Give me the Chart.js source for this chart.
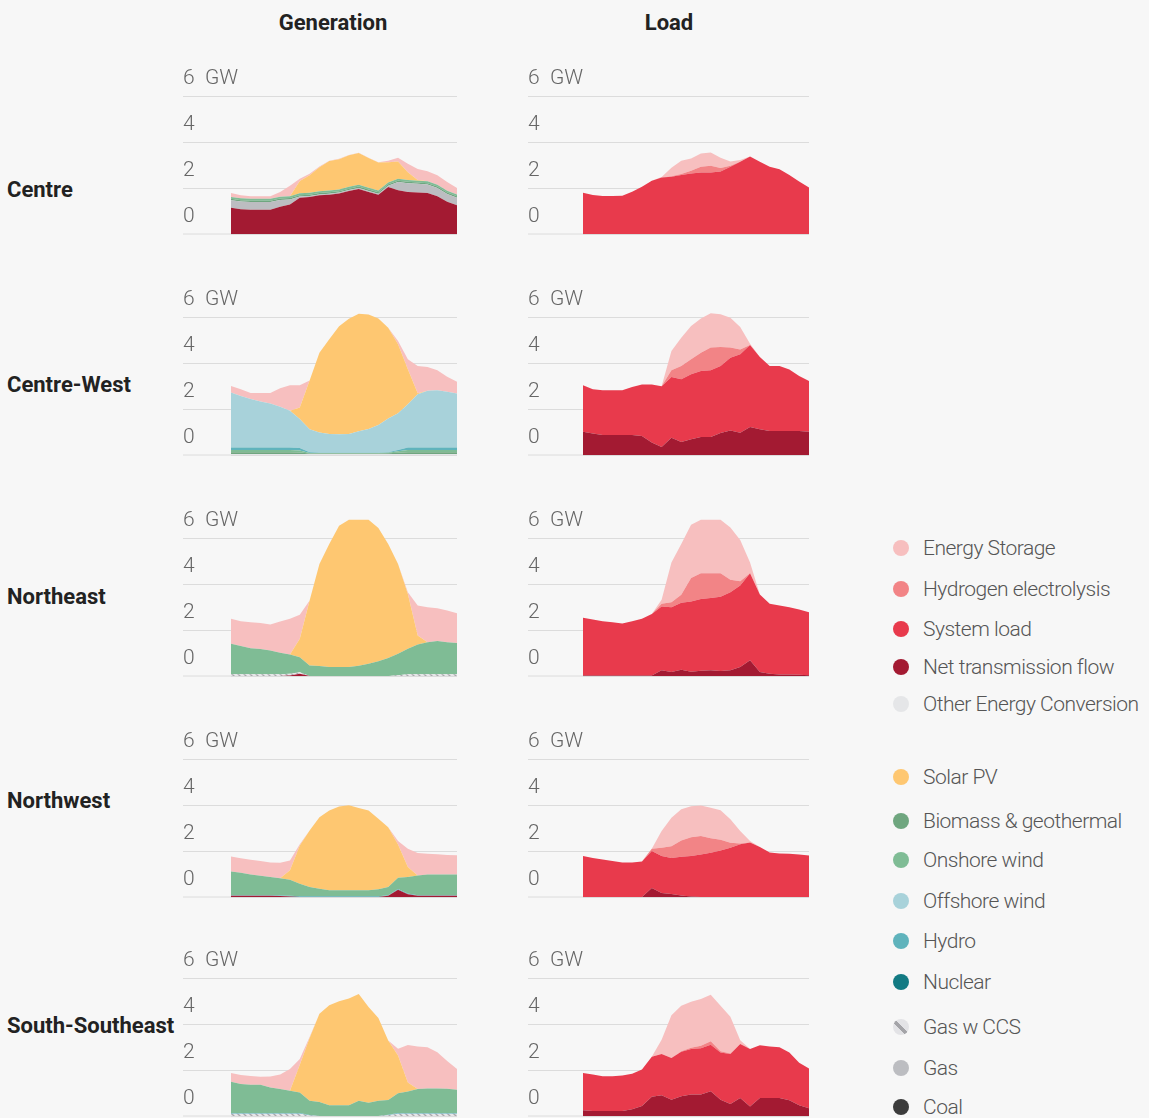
<!DOCTYPE html>
<html>
<head>
<meta charset="utf-8">
<script src="https://cdn.jsdelivr.net/npm/chart.js@4.4.1/dist/chart.umd.min.js"></script>
<style>
  html, body { margin: 0; padding: 0; background: #f7f7f7; }
  body { width: 1149px; height: 1118px; position: relative; overflow: hidden; font-family: Roboto, "Open Sans", sans-serif; }
  .col-title { position: absolute; top: 10px; font-weight: 700; font-size: 22px; color: #222; transform: translateX(-50%); white-space: nowrap; }
  .row-label { position: absolute; left: 7px; font-weight: 700; font-size: 22px; line-height: 26px; color: #222; white-space: nowrap; }
  canvas { position: absolute; }
  .legend-item { position: absolute; left: 893px; height: 26px; display: flex; align-items: center; white-space: nowrap; }
  .legend-item .dot { width: 16px; height: 16px; border-radius: 50%; margin-right: 14px; flex: none; }
  .legend-item .txt { font-size: 21px; font-weight: 300; color: #555; letter-spacing: -0.5px; }
</style>
</head>
<body>
<div class="col-title" style="left:333px">Generation</div>
<div class="col-title" style="left:669px">Load</div>

<div class="row-label" style="top:177px">Centre</div>
<div class="row-label" style="top:372px">Centre-West</div>
<div class="row-label" style="top:584px">Northeast</div>
<div class="row-label" style="top:788px">Northwest</div>
<div class="row-label" style="top:1013px">South-Southeast</div>

<canvas id="c0g"></canvas><canvas id="c0l"></canvas>
<canvas id="c1g"></canvas><canvas id="c1l"></canvas>
<canvas id="c2g"></canvas><canvas id="c2l"></canvas>
<canvas id="c3g"></canvas><canvas id="c3l"></canvas>
<canvas id="c4g"></canvas><canvas id="c4l"></canvas>

<div id="legend"></div>

<script>
// Hour of day on the x axis
const hours = ['0','1','2','3','4','5','6','7','8','9','10','11','12','13','14','15','16','17','18','19','20','21','22','23'];
// Y axis tick values (GW)
const yTicks = [0, 2, 4, 6];
const yUnit = 'GW';

// ---- Centre: generation (GW, per layer, bottom to top) ----
const centreGenNet      = [1.14,1.08,1.05,1.05,1.05,1.18,1.28,1.58,1.61,1.68,1.71,1.76,1.87,1.96,1.83,1.71,2.04,1.90,1.83,1.80,1.78,1.64,1.40,1.25];
const centreGenGas      = [0.33,0.33,0.34,0.34,0.34,0.30,0.22,0.05,0.04,0.04,0.04,0.04,0.04,0.04,0.04,0.04,0.06,0.36,0.38,0.38,0.37,0.36,0.34,0.33];
const centreGenBiomass  = [0.06,0.06,0.06,0.06,0.06,0.06,0.06,0.06,0.06,0.06,0.06,0.06,0.06,0.06,0.06,0.06,0.06,0.06,0.06,0.06,0.06,0.06,0.06,0.06];
const centreGenOnshore  = [0.08,0.08,0.08,0.08,0.08,0.08,0.08,0.08,0.08,0.08,0.08,0.08,0.08,0.08,0.08,0.08,0.08,0.08,0.08,0.08,0.08,0.08,0.08,0.08];
const centreGenSolar    = [0,0,0,0,0,0,0,0.53,0.76,1.04,1.28,1.31,1.37,1.38,1.29,1.22,0.88,0.75,0.34,0.03,0,0,0,0];
const centreGenStorage  = [0.17,0.13,0.11,0.11,0.11,0.21,0.46,0.10,0.07,0.03,0.02,0.02,0.02,0.01,0.01,0.01,0.07,0.17,0.36,0.48,0.44,0.41,0.38,0.28];
// ---- Centre: load ----
const centreLoadSystem   = [1.79,1.70,1.65,1.65,1.66,1.84,2.05,2.31,2.46,2.49,2.56,2.63,2.67,2.67,2.72,2.92,3.14,3.37,3.14,2.92,2.82,2.56,2.28,2.02];
const centreLoadHydrogen = [0,0,0,0,0,0,0,0,0,0.02,0.05,0.12,0.25,0.30,0.15,0.05,0,0,0,0,0,0,0,0];
const centreLoadStorage  = [0,0,0,0,0,0,0,0,0.02,0.37,0.57,0.53,0.58,0.57,0.45,0.18,0.08,0,0,0,0,0,0,0];

// ---- Centre-West: generation ----
const cwGenOther    = [0.04,0.04,0.04,0.04,0.04,0.04,0.04,0.04,0.04,0.04,0.04,0.04,0.04,0.04,0.04,0.04,0.04,0.04,0.04,0.04,0.04,0.04,0.04,0.04];
const cwGenBiomass  = [0.08,0.08,0.08,0.08,0.08,0.08,0.08,0.07,0.03,0.03,0.03,0.03,0.03,0.03,0.03,0.03,0.04,0.06,0.08,0.08,0.08,0.08,0.08,0.08];
const cwGenOnshore  = [0.10,0.10,0.10,0.10,0.10,0.10,0.10,0.09,0.02,0.02,0.02,0.02,0.02,0.02,0.02,0.02,0.02,0.06,0.10,0.10,0.10,0.10,0.10,0.10];
const cwGenHydro    = [0.11,0.11,0.11,0.11,0.11,0.11,0.11,0.10,0.03,0.01,0.01,0.01,0.01,0.01,0.01,0.01,0.02,0.06,0.11,0.11,0.11,0.11,0.11,0.11];
const cwGenOffshore = [2.39,2.24,2.10,2.00,1.91,1.77,1.59,1.26,1.00,0.88,0.81,0.80,0.81,0.93,1.03,1.20,1.47,1.59,1.88,2.31,2.46,2.49,2.42,2.34];
const cwGenSolar    = [0,0,0,0,0,0,0,0.51,2.12,3.47,4.12,4.70,5.01,5.11,4.98,4.64,3.94,3.00,1.52,0.05,0,0,0,0];
const cwGenStorage  = [0.28,0.29,0.27,0.37,0.46,0.80,1.11,0.96,0,0,0,0,0,0,0,0,0,0.15,0.43,1.18,1.04,0.86,0.65,0.52];
// ---- Centre-West: load ----
const cwLoadNet      = [1.01,0.93,0.87,0.87,0.87,0.87,0.83,0.54,0.35,0.75,0.57,0.68,0.78,0.78,0.96,1.07,0.97,1.22,1.12,1.04,1.04,1.04,1.04,1.01];
const cwLoadSystem   = [2.02,1.93,1.94,1.94,1.94,2.09,2.24,2.53,2.64,2.64,2.72,2.83,2.87,2.90,2.91,3.16,3.41,3.56,3.14,2.83,2.83,2.68,2.39,2.21];
const cwLoadHydrogen = [0,0,0,0,0,0,0,0,0,0.29,0.58,0.65,0.80,0.99,0.83,0.44,0.21,0,0,0,0,0,0,0];
const cwLoadStorage  = [0,0,0,0,0,0,0,0,0,0.84,1.23,1.45,1.49,1.49,1.42,1.30,0.98,0.06,0,0,0,0,0,0];

// ---- Northeast: generation ----
const neGenNet      = [0,0,0,0,0,0,0.02,0.10,0,0,0,0,0,0,0,0,0,0,0,0,0,0,0,0];
const neGenGasCcs   = [0.08,0.08,0.08,0.08,0.08,0.08,0.08,0.06,0,0,0,0,0,0,0,0,0,0.03,0.08,0.08,0.08,0.08,0.08,0.08];
const neGenOnshore  = [1.32,1.22,1.13,1.09,1.03,0.93,0.84,0.66,0.46,0.43,0.39,0.39,0.39,0.45,0.53,0.64,0.78,0.94,1.10,1.29,1.39,1.44,1.39,1.35];
const neGenSolar    = [0,0,0,0,0,0,0,0.80,2.82,4.44,5.35,6.14,6.40,6.34,6.26,5.79,4.96,3.90,2.39,0.39,0,0,0,0];
const neGenStorage  = [1.09,1.08,1.13,1.13,1.13,1.36,1.55,1.04,0,0,0,0,0,0,0,0,0,0,0.07,1.30,1.52,1.43,1.38,1.30];
// ---- Northeast: load ----
const neLoadNet      = [0.02,0.02,0.02,0.02,0.02,0.02,0.02,0.02,0.25,0.17,0.27,0.19,0.23,0.25,0.22,0.25,0.39,0.68,0.17,0.10,0.07,0.06,0.05,0.03];
const neLoadSystem   = [2.51,2.44,2.36,2.32,2.26,2.36,2.47,2.68,2.77,2.82,2.91,3.05,3.12,3.14,3.23,3.39,3.54,3.79,3.37,3.04,2.99,2.93,2.84,2.74];
const neLoadHydrogen = [0,0,0,0,0,0,0,0,0.12,0.22,0.35,1.02,1.12,1.08,1.02,0.55,0.19,0,0,0,0,0,0,0];
const neLoadStorage  = [0,0,0,0,0,0,0,0,0.17,1.73,2.21,2.32,2.32,2.32,2.32,2.27,1.79,0.47,0,0,0,0,0,0];

// ---- Northwest: generation ----
const nwGenNet      = [0.05,0.05,0.05,0.05,0.05,0.04,0.02,0,0,0,0,0,0,0,0,0,0.05,0.32,0.12,0.05,0.05,0.05,0.05,0.05];
const nwGenHydro    = [0.03,0.03,0.03,0.03,0.03,0.03,0.03,0.03,0.03,0.03,0.03,0.03,0.03,0.03,0.03,0.03,0.03,0.03,0.03,0.03,0.03,0.03,0.03,0.03];
const nwGenOnshore  = [1.03,0.97,0.90,0.84,0.79,0.75,0.70,0.55,0.40,0.33,0.26,0.26,0.26,0.26,0.26,0.31,0.35,0.49,0.72,0.86,0.90,0.90,0.90,0.90];
const nwGenSolar    = [0,0,0,0,0,0,0.41,1.66,2.46,3.11,3.47,3.64,3.70,3.58,3.47,3.06,2.60,1.44,0.43,0,0,0,0,0];
const nwGenStorage  = [0.65,0.64,0.64,0.64,0.63,0.67,0.43,0.05,0,0,0,0,0,0,0,0,0,0.15,0.80,0.97,0.90,0.88,0.85,0.83];
// ---- Northwest: load ----
const nwLoadNet      = [0,0,0,0,0,0,0,0.39,0.17,0.13,0.07,0.02,0,0,0,0,0,0,0,0,0,0,0,0];
const nwLoadSystem   = [1.78,1.70,1.63,1.56,1.50,1.50,1.54,1.61,1.61,1.57,1.68,1.76,1.85,1.92,2.02,2.14,2.29,2.37,2.17,1.94,1.89,1.88,1.85,1.80];
const nwLoadHydrogen = [0,0,0,0,0,0,0,0.10,0.36,0.51,0.71,0.82,0.80,0.63,0.47,0.22,0.04,0,0,0,0,0,0,0];
const nwLoadStorage  = [0,0,0,0,0,0,0,0,0.73,1.24,1.35,1.35,1.33,1.33,1.28,1.02,0.54,0.06,0,0,0,0,0,0];

// ---- South-Southeast: generation ----
const sseGenGasCcs  = [0.10,0.10,0.10,0.10,0.10,0.10,0.10,0.10,0.02,0,0,0,0,0,0,0,0.03,0.10,0.10,0.10,0.10,0.10,0.10,0.10];
const sseGenHydro   = [0.03,0.03,0.03,0.03,0.03,0.03,0.03,0.03,0.02,0,0,0,0,0,0,0,0.02,0.03,0.03,0.03,0.03,0.03,0.03,0.03];
const sseGenOnshore = [1.36,1.26,1.23,1.23,1.11,1.04,0.97,0.89,0.62,0.61,0.47,0.47,0.47,0.66,0.58,0.66,0.65,0.86,0.94,1.04,1.07,1.07,1.06,1.01];
const sseGenSolar   = [0,0,0,0,0,0,0,1.21,2.73,3.84,4.35,4.52,4.64,4.64,4.16,3.60,2.58,1.64,0.39,0,0,0,0,0];
const sseGenStorage = [0.38,0.39,0.38,0.35,0.48,0.63,0.94,0.25,0.05,0,0,0,0,0,0,0,0,0.29,1.63,1.85,1.79,1.57,1.20,0.90];
// ---- South-Southeast: load ----
const sseLoadNet      = [0.25,0.22,0.22,0.22,0.22,0.29,0.44,0.84,0.90,0.71,0.86,0.94,0.94,1.08,0.71,0.52,0.78,0.41,0.78,0.78,0.78,0.69,0.47,0.34];
const sseLoadSystem   = [1.62,1.58,1.51,1.51,1.54,1.55,1.58,1.74,1.80,1.81,1.93,1.97,2.01,2.02,2.05,2.18,2.35,2.50,2.30,2.24,2.21,2.07,1.85,1.72];
const sseLoadHydrogen = [0,0,0,0,0,0,0,0,0,0,0.03,0.06,0.10,0.15,0.05,0.02,0,0,0,0,0,0,0,0];
const sseLoadStorage  = [0,0,0,0,0,0,0,0,0.62,1.86,1.97,2.00,2.04,2.02,1.98,1.59,0.16,0,0,0,0,0,0,0];

// Diagonal hatch used for gas with carbon capture
function hatchPattern() {
  const c = document.createElement('canvas');
  c.width = 6; c.height = 6;
  const g = c.getContext('2d');
  g.fillStyle = '#e6e6e8';
  g.fillRect(0, 0, 6, 6);
  g.strokeStyle = '#a9a9ad';
  g.lineWidth = 1.4;
  g.beginPath();
  g.moveTo(-1, -1); g.lineTo(7, 7);
  g.moveTo(-1, 5); g.lineTo(1, 7);
  g.moveTo(5, -1); g.lineTo(7, 1);
  g.stroke();
  return document.createElement('canvas').getContext('2d').createPattern(c, 'repeat');
}

const series = {
  storage:  { label: 'Energy Storage',          color: '#f7bfbf' },
  hydrogen: { label: 'Hydrogen electrolysis',   color: '#f28486' },
  system:   { label: 'System load',             color: '#e83a4c' },
  net:      { label: 'Net transmission flow',   color: '#a31a32' },
  other:    { label: 'Other Energy Conversion', color: '#e5e6e8' },
  solar:    { label: 'Solar PV',                color: '#fec771' },
  biomass:  { label: 'Biomass & geothermal',    color: '#6fa67f' },
  onshore:  { label: 'Onshore wind',            color: '#7fbc95' },
  offshore: { label: 'Offshore wind',           color: '#a8d2da' },
  hydro:    { label: 'Hydro',                   color: '#5fb3bc' },
  nuclear:  { label: 'Nuclear',                 color: '#127a83' },
  gasccs:   { label: 'Gas w CCS',               color: '#d0d0d3', hatch: true },
  gas:      { label: 'Gas',                     color: '#bcbdc1' },
  coal:     { label: 'Coal',                    color: '#3c3c3c' }
};
const legendGroups = [
  ['storage','hydrogen','system','net','other'],
  ['solar','biomass','onshore','offshore','hydro','nuclear','gasccs','gas','coal']
];

const panels = [
  { id: 'c0g', row: 0, col: 0, layers: [['net', centreGenNet], ['gas', centreGenGas], ['biomass', centreGenBiomass], ['onshore', centreGenOnshore], ['solar', centreGenSolar], ['storage', centreGenStorage]] },
  { id: 'c0l', row: 0, col: 1, layers: [['system', centreLoadSystem], ['hydrogen', centreLoadHydrogen], ['storage', centreLoadStorage]] },
  { id: 'c1g', row: 1, col: 0, layers: [['other', cwGenOther], ['biomass', cwGenBiomass], ['onshore', cwGenOnshore], ['hydro', cwGenHydro], ['offshore', cwGenOffshore], ['solar', cwGenSolar], ['storage', cwGenStorage]] },
  { id: 'c1l', row: 1, col: 1, layers: [['net', cwLoadNet], ['system', cwLoadSystem], ['hydrogen', cwLoadHydrogen], ['storage', cwLoadStorage]] },
  { id: 'c2g', row: 2, col: 0, layers: [['net', neGenNet], ['gasccs', neGenGasCcs], ['onshore', neGenOnshore], ['solar', neGenSolar], ['storage', neGenStorage]] },
  { id: 'c2l', row: 2, col: 1, layers: [['net', neLoadNet], ['system', neLoadSystem], ['hydrogen', neLoadHydrogen], ['storage', neLoadStorage]] },
  { id: 'c3g', row: 3, col: 0, layers: [['net', nwGenNet], ['hydro', nwGenHydro], ['onshore', nwGenOnshore], ['solar', nwGenSolar], ['storage', nwGenStorage]] },
  { id: 'c3l', row: 3, col: 1, layers: [['net', nwLoadNet], ['system', nwLoadSystem], ['hydrogen', nwLoadHydrogen], ['storage', nwLoadStorage]] },
  { id: 'c4g', row: 4, col: 0, layers: [['gasccs', sseGenGasCcs], ['hydro', sseGenHydro], ['onshore', sseGenOnshore], ['solar', sseGenSolar], ['storage', sseGenStorage]] },
  { id: 'c4l', row: 4, col: 1, layers: [['net', sseLoadNet], ['system', sseLoadSystem], ['hydrogen', sseLoadHydrogen], ['storage', sseLoadStorage]] }
];

// Panel geometry
const baselines = [234, 455, 676, 897, 1116];   // pixel row of the 0 GW line
const columns = [
  { left: 175, axisWidth: 48, plotRight: 457 },  // Generation
  { left: 520, axisWidth: 55, plotRight: 809 }   // Load
];
const PX_PER_GW = 23;
const Y_MAX = 7;
const PAD_TOP = 24, PAD_BOTTOM = 14, PAD_LEFT = 8, PAD_RIGHT = 4;

const hatch = hatchPattern();

panels.forEach(p => {
  const col = columns[p.col];
  const plotH = Y_MAX * PX_PER_GW;
  const cv = document.getElementById(p.id);
  const w = col.plotRight + PAD_RIGHT - col.left;
  const h = PAD_TOP + plotH + PAD_BOTTOM;
  cv.width = w; cv.height = h;
  cv.style.width = w + 'px'; cv.style.height = h + 'px';
  cv.style.left = col.left + 'px';
  cv.style.top = (baselines[p.row] - plotH - PAD_TOP) + 'px';

  const datasets = p.layers.map(([key, data]) => {
    const s = series[key];
    return {
      label: s.label,
      data: data,
      backgroundColor: s.hatch ? hatch : s.color,
      borderColor: s.color,
      borderWidth: 0,
      pointRadius: 0,
      pointHoverRadius: 0,
      tension: 0,
      fill: 'stack'
    };
  });

  new Chart(cv, {
    type: 'line',
    data: { labels: hours, datasets },
    options: {
      responsive: false,
      devicePixelRatio: 1,
      animation: false,
      events: [],
      layout: { padding: { top: PAD_TOP, bottom: PAD_BOTTOM, left: PAD_LEFT, right: PAD_RIGHT } },
      plugins: { legend: { display: false }, tooltip: { enabled: false } },
      scales: {
        x: { display: false, offset: false },
        y: {
          stacked: true,
          min: 0,
          max: Y_MAX,
          afterBuildTicks: s => { s.ticks = yTicks.map(v => ({ value: v })); },
          afterFit: s => { s.width = col.axisWidth; s.paddingTop = 0; s.paddingBottom = 0; },
          border: { display: false },
          grid: {
            color: '#dcdcdc',
            lineWidth: c => (c.tick && c.tick.value === 0 ? 2 : 1),
            drawTicks: true,
            tickLength: col.axisWidth,
            tickColor: '#dcdcdc',
            tickWidth: 1
          },
          ticks: {
            // labels sit above their grid line, left-aligned at the start of the line
            mirror: true,
            padding: -col.axisWidth,
            labelOffset: -17,
            color: '#666',
            font: { family: 'Roboto', size: 21, weight: '300' },
            callback: v => (v === yTicks[yTicks.length - 1] ? v + '  ' + yUnit : String(v))
          }
        }
      }
    }
  });
});

// Legend
const legendTops = [548, 589, 629, 667, 704, 777, 821, 860, 901, 941, 982, 1027, 1068, 1107];
const legendEl = document.getElementById('legend');
let li = 0;
legendGroups.forEach(group => group.forEach(key => {
  const s = series[key];
  const item = document.createElement('div');
  item.className = 'legend-item';
  item.style.top = (legendTops[li++] - 13) + 'px';
  const dot = document.createElement('span');
  dot.className = 'dot';
  dot.style.background = s.hatch
    ? 'linear-gradient(45deg, #e3e3e6 38%, #a4a4a8 38%, #a4a4a8 56%, #e3e3e6 56%)'
    : s.color;
  const txt = document.createElement('span');
  txt.className = 'txt';
  txt.textContent = s.label;
  item.appendChild(dot); item.appendChild(txt);
  legendEl.appendChild(item);
}));
</script>
</body>
</html>
